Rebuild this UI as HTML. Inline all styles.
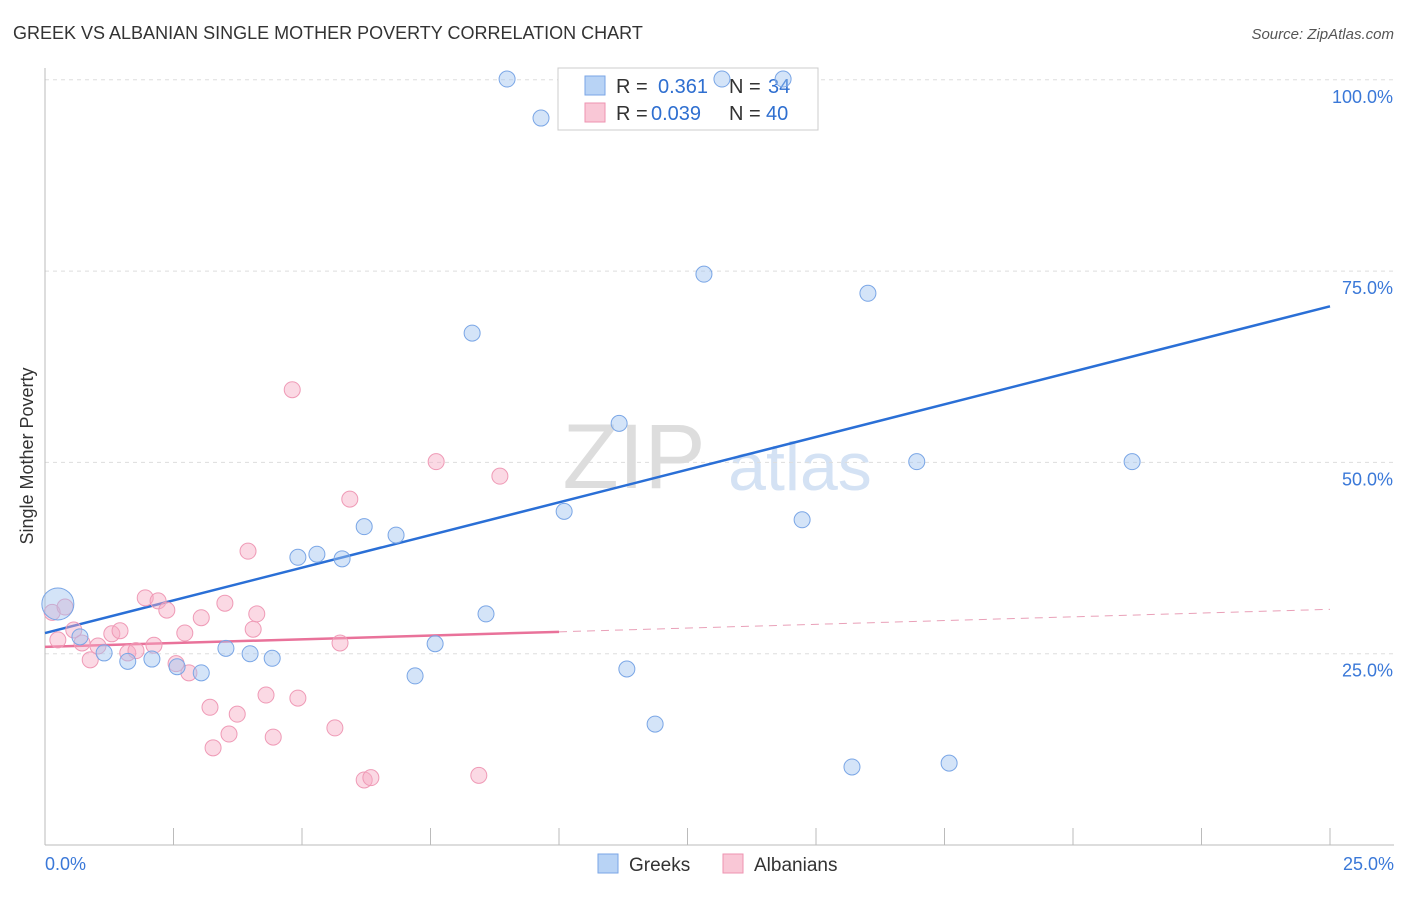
<!DOCTYPE html>
<html><head><meta charset="utf-8"><style>
body{margin:0;background:#fff;font-family:"Liberation Sans",sans-serif;}
svg text{font-family:"Liberation Sans",sans-serif;}
</style></head><body>
<svg id="chart" width="1406" height="892" viewBox="0 0 1406 892">
<text x="13" y="39" font-size="18" fill="#333">GREEK VS ALBANIAN SINGLE MOTHER POVERTY CORRELATION CHART</text>
<text x="1394" y="39" font-size="15" fill="#555" font-style="italic" text-anchor="end">Source: ZipAtlas.com</text>
<text x="33" y="456" font-size="18" fill="#333" transform="rotate(-90 33 456)" text-anchor="middle">Single Mother Poverty</text>
<text x="634" y="488" font-size="92" fill="#ddd" font-family="Liberation Serif" text-anchor="middle">ZIP</text>
<text x="800" y="490" font-size="68" fill="#d4e2f4" text-anchor="middle">atlas</text>
<g id="grid"></g><g id="axes"></g>
<g>
<rect x="558" y="68" width="260" height="62" fill="#fff" stroke="#ccc"/>
<rect x="585" y="76" width="20" height="19" fill="#b8d3f5" stroke="#7aa6e6"/>
<text x="616" y="93" font-size="20" fill="#333">R =</text>
<text x="658" y="93" font-size="20" fill="#2f6fd0">0.361</text>
<text x="729" y="93" font-size="20" fill="#333">N =</text>
<text x="768" y="93" font-size="20" fill="#2f6fd0">34</text>
<rect x="585" y="103" width="20" height="19" fill="#f9c7d6" stroke="#ee93b0"/>
<text x="616" y="120" font-size="20" fill="#333">R =</text>
<text x="651" y="120" font-size="20" fill="#2f6fd0">0.039</text>
<text x="729" y="120" font-size="20" fill="#333">N =</text>
<text x="766" y="120" font-size="20" fill="#2f6fd0">40</text>
</g>
<g id="lines"></g><g id="pts"></g>
<g>
<rect x="598" y="854" width="20" height="19" fill="#b8d3f5" stroke="#7aa6e6"/>
<text x="629" y="871" font-size="19" fill="#333">Greeks</text>
<rect x="723" y="854" width="20" height="19" fill="#f9c7d6" stroke="#ee93b0"/>
<text x="754" y="871" font-size="19" fill="#333">Albanians</text>
</g>
</svg>
<script>
const xTicks=[0,2.5,5,7.5,10,12.5,15,17.5,20,22.5,25];
const yTicks=[25,50,75,100];
const yTickLabels=["25.0%","50.0%","75.0%","100.0%"];
const xTickLabels=["0.0%","25.0%"];
const greekX=[8.99,9.65,13.17,14.36,12.82,16.01,8.31,11.17,16.96,21.15,10.10,14.73,6.21,6.83,4.92,5.29,5.78,8.58,7.59,0.68,1.15,1.61,2.08,2.57,3.04,3.52,3.99,4.42,7.20,11.32,11.87,15.70,17.59,0.25];
const greekY=[100.1,95.0,100.1,100.1,74.6,72.1,66.9,55.1,50.1,50.1,43.6,42.5,41.6,40.5,37.6,38.0,37.4,30.2,26.3,27.2,25.1,24.0,24.3,23.3,22.5,25.7,25.0,24.4,22.1,23.0,15.8,10.2,10.7,31.5];
const albX=[0.14,0.39,0.25,0.56,0.72,0.88,1.03,1.30,1.46,1.61,1.77,1.95,2.12,2.20,2.37,2.55,2.72,2.80,3.04,3.21,3.27,3.50,3.58,3.74,3.95,4.05,4.12,4.30,4.44,4.81,4.92,5.64,5.74,5.93,6.21,6.34,7.61,8.44,8.85];
const albY=[30.4,31.1,26.8,28.1,26.4,24.2,26.0,27.6,28.0,25.1,25.4,32.3,26.1,31.9,30.7,23.7,27.7,22.5,29.7,18.0,12.7,31.6,14.5,17.1,38.4,28.2,30.2,19.6,14.1,59.5,19.2,15.3,26.4,45.2,8.5,8.8,50.1,9.1,48.2];
const greekTrend=[27.7,70.4];
const albTrend=[25.9,30.8];
const albSolidEnd=10;
const NS="http://www.w3.org/2000/svg";
const X=v=>45+v*51.4, Y=v=>845-v*7.652;
function mk(tag,attrs,parent){const e=document.createElementNS(NS,tag);for(const k in attrs)e.setAttribute(k,attrs[k]);document.getElementById(parent).appendChild(e);return e;}
yTicks.forEach((t,i)=>{
 const l=mk('line',{x1:45,x2:1394,y1:Y(t),y2:Y(t),stroke:'#ddd','stroke-dasharray':'4 4'},'grid');
 
 
 const tx=mk('text',{x:1393,y:Y(t)+23,'font-size':18,fill:'#3a78d8','text-anchor':'end'},'axes');tx.textContent=yTickLabels[i];
 
 
});
const ax=mk('line',{x1:45,x2:1394,y1:845,y2:845,stroke:'#bbb'},'axes');


const ay=mk('line',{x1:45,x2:45,y1:68,y2:845,stroke:'#bbb'},'axes');


xTicks.forEach(t=>{const l=mk('line',{x1:X(t),x2:X(t),y1:828,y2:845,stroke:'#bbb'},'axes');
 
 });
const t0=mk('text',{x:45,y:870,'font-size':18,fill:'#3a78d8'},'axes');t0.textContent=xTickLabels[0];


const t1=mk('text',{x:1394,y:870,'font-size':18,fill:'#3a78d8','text-anchor':'end'},'axes');t1.textContent=xTickLabels[1];


albX.forEach((x,i)=>{const c=mk('circle',{cx:X(x),cy:Y(albY[i]),r:8,fill:'rgba(246,170,195,0.45)',stroke:'#ef9ab6','stroke-width':1},'pts');
 
 });
greekX.forEach((x,i)=>{const big=i===greekX.length-1;const c=mk('circle',{cx:X(x),cy:Y(greekY[i]),r:big?16:8,fill:'rgba(160,195,240,0.45)',stroke:'#7aa6e6','stroke-width':1},'pts');
 
 });
const at=v=>albTrend[0]+(albTrend[1]-albTrend[0])*v/25;
const g=mk('line',{x1:X(0),y1:Y(greekTrend[0]),x2:X(25),y2:Y(greekTrend[1]),stroke:'#2a6fd6','stroke-width':2.5},'lines');


const a1=mk('line',{x1:X(0),y1:Y(at(0)),x2:X(albSolidEnd),y2:Y(at(albSolidEnd)),stroke:'#e9729a','stroke-width':2.5},'lines');


const a2=mk('line',{x1:X(albSolidEnd),y1:Y(at(albSolidEnd)),x2:X(25),y2:Y(at(25)),stroke:'#e9a0b8','stroke-width':1,'stroke-dasharray':'8 6'},'lines');


</script>
</body></html>
